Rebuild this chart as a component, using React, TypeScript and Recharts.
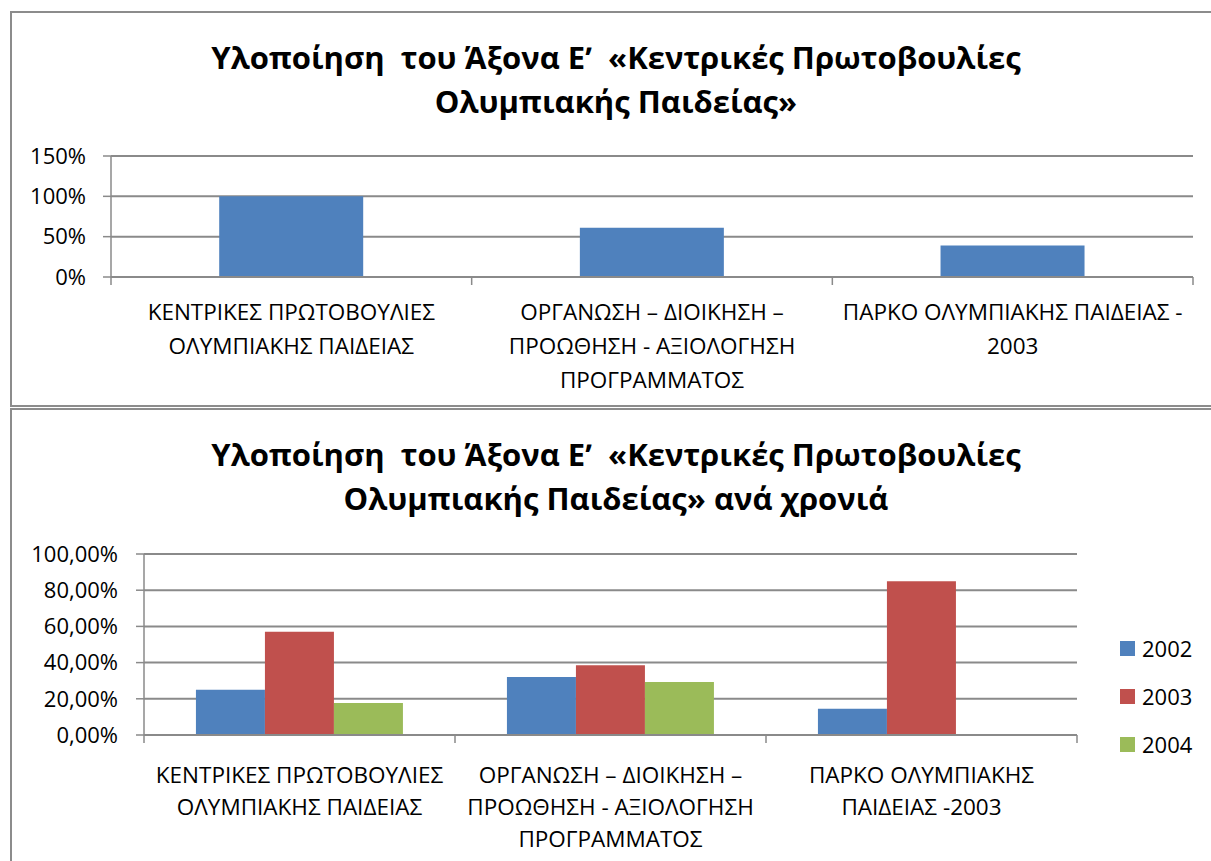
import { BarChart, Bar, XAxis, YAxis, CartesianGrid, Legend } from "recharts";

const totalCategories = ["ΚΕΝΤΡΙΚΕΣ", "ΟΡΓΑΝΩΣΗ", "ΠΑΡΚΟ"];
const totalLabels = [
  ["ΚΕΝΤΡΙΚΕΣ ΠΡΩΤΟΒΟΥΛΙΕΣ", "ΟΛΥΜΠΙΑΚΗΣ ΠΑΙΔΕΙΑΣ"],
  ["ΟΡΓΑΝΩΣΗ – ΔΙΟΙΚΗΣΗ –", "ΠΡΟΩΘΗΣΗ - ΑΞΙΟΛΟΓΗΣΗ", "ΠΡΟΓΡΑΜΜΑΤΟΣ"],
  ["ΠΑΡΚΟ ΟΛΥΜΠΙΑΚΗΣ ΠΑΙΔΕΙΑΣ -", "2003"],
];
const totalValues = [1.0, 0.61, 0.39];
const totalTicks = [0, 0.5, 1, 1.5];

const yearLabels = [
  ["ΚΕΝΤΡΙΚΕΣ ΠΡΩΤΟΒΟΥΛΙΕΣ", "ΟΛΥΜΠΙΑΚΗΣ ΠΑΙΔΕΙΑΣ"],
  ["ΟΡΓΑΝΩΣΗ – ΔΙΟΙΚΗΣΗ –", "ΠΡΟΩΘΗΣΗ - ΑΞΙΟΛΟΓΗΣΗ", "ΠΡΟΓΡΑΜΜΑΤΟΣ"],
  ["ΠΑΡΚΟ ΟΛΥΜΠΙΑΚΗΣ", "ΠΑΙΔΕΙΑΣ -2003"],
];
const years = ["2002", "2003", "2004"];
const values2002 = [0.25, 0.32, 0.145];
const values2003 = [0.57, 0.385, 0.85];
const values2004 = [0.177, 0.293, null];
const yearTicks = [0, 0.2, 0.4, 0.6, 0.8, 1];

const colors = ["#4F81BD", "#C0504D", "#9BBB59"];
const GRID = "#8a8a8a";
const FONT = "'Open Sans', 'Noto Sans', sans-serif";

const totalData = totalCategories.map((c, i) => ({ name: c, value: totalValues[i] }));
const yearData = totalCategories.map((c, i) => ({
  name: c,
  "2002": values2002[i],
  "2003": values2003[i],
  "2004": values2004[i],
}));

function CategoryTick(props: any) {
  const { x, y, index, lines, step, count, firstLine, lineHeight } = props;
  const rows: string[] = lines[index] || [];
  return (
    <g>
      <line x1={x - step / 2} x2={x - step / 2} y1={y} y2={y + 8} stroke={GRID} strokeWidth={1.5} />
      {index === count - 1 && (
        <line x1={x + step / 2} x2={x + step / 2} y1={y} y2={y + 8} stroke={GRID} strokeWidth={1.5} />
      )}
      <text textAnchor="middle" fill="#000" fontSize={22.5} fontFamily={FONT}>
        {rows.map((r, i) => (
          <tspan key={i} x={x} y={y + firstLine + i * lineHeight}>
            {r}
          </tspan>
        ))}
      </text>
    </g>
  );
}

function YearLegend() {
  return (
    <div style={{ fontFamily: FONT, fontSize: 22, color: "#000" }}>
      {years.map((yr, i) => (
        <div key={yr} style={{ height: 48, display: "flex", alignItems: "center" }}>
          <span style={{ width: 15, height: 15, background: colors[i], marginRight: 7, display: "inline-block" }} />
          <span>{yr}</span>
        </div>
      ))}
    </div>
  );
}

const titleStyle: any = {
  position: "absolute",
  left: 10,
  width: 1212,
  textAlign: "center",
  fontFamily: FONT,
  fontWeight: 700,
  fontSize: 31,
  lineHeight: "44px",
  whiteSpace: "pre",
  color: "#000",
};

export default function App() {
  const topStep = (1193 - 111) / 3;
  const botStep = (1077 - 144) / 3;
  return (
    <div style={{ position: "absolute", left: 0, top: 0, width: 1211, height: 861, overflow: "hidden", background: "#fff" }}>
      <div style={{ position: "absolute", left: 10, top: 11, width: 1230, height: 396, border: "2px solid #8c8c8c", boxSizing: "border-box" }} />
      <div style={{ position: "absolute", left: 10, top: 408, width: 1230, height: 480, border: "2px solid #8c8c8c", boxSizing: "border-box" }} />

      <div style={{ ...titleStyle, top: 35 }}>
        {"Υλοποίηση  του Άξονα Εʹ  «Κεντρικές Πρωτοβουλίες\nΟλυμπιακής Παιδείας»"}
      </div>
      <div style={{ ...titleStyle, top: 432 }}>
        {"Υλοποίηση  του Άξονα Εʹ  «Κεντρικές Πρωτοβουλίες\nΟλυμπιακής Παιδείας» ανά χρονιά"}
      </div>

      <div style={{ position: "absolute", left: 0, top: 0 }}>
        <BarChart width={1211} height={408} data={totalData} margin={{ top: 156, right: 18, bottom: 0, left: 0 }} barCategoryGap="30%">
          <CartesianGrid vertical={false} stroke={GRID} strokeWidth={2} />
          <XAxis
            dataKey="name"
            height={131}
            interval={0}
            tickSize={0}
            tickMargin={0}
            axisLine={{ stroke: GRID, strokeWidth: 2 }}
            tickLine={false}
            tick={(p: any) => (
              <CategoryTick {...p} lines={totalLabels} step={topStep} count={3} firstLine={43} lineHeight={34} />
            )}
          />
          <YAxis
            width={111}
            domain={[0, 1.5]}
            ticks={totalTicks}
            tickFormatter={(v: number) => `${Math.round(v * 100)}%`}
            tickSize={8}
            tickMargin={17}
            axisLine={{ stroke: GRID, strokeWidth: 1.5 }}
            tickLine={{ stroke: GRID, strokeWidth: 1.5 }}
            tick={{ fill: "#000", fontSize: 22, fontFamily: FONT }}
          />
          <Bar dataKey="value" fill={colors[0]} isAnimationActive={false} />
        </BarChart>
      </div>

      <div style={{ position: "absolute", left: 0, top: 409 }}>
        <BarChart width={1211} height={452} data={yearData} margin={{ top: 145, right: 134, bottom: 0, left: 0 }} barCategoryGap="16.7%" barGap={0}>
          <CartesianGrid vertical={false} stroke={GRID} strokeWidth={2} />
          <XAxis
            dataKey="name"
            height={126}
            interval={0}
            tickSize={0}
            tickMargin={0}
            axisLine={{ stroke: GRID, strokeWidth: 2 }}
            tickLine={false}
            tick={(p: any) => (
              <CategoryTick {...p} lines={yearLabels} step={botStep} count={3} firstLine={48} lineHeight={32} />
            )}
          />
          <YAxis
            width={144}
            domain={[0, 1]}
            ticks={yearTicks}
            tickFormatter={(v: number) => `${(v * 100).toFixed(2).replace(".", ",")}%`}
            tickSize={8}
            tickMargin={18}
            axisLine={{ stroke: GRID, strokeWidth: 1.5 }}
            tickLine={{ stroke: GRID, strokeWidth: 1.5 }}
            tick={{ fill: "#000", fontSize: 22, fontFamily: FONT }}
          />
          <Legend
            layout="vertical"
            align="center"
            verticalAlign="middle"
            wrapperStyle={{ left: 1120, top: 215, width: 90 }}
            content={() => <YearLegend />}
          />
          {years.map((yr, i) => (
            <Bar key={yr} dataKey={yr} fill={colors[i]} isAnimationActive={false} />
          ))}
        </BarChart>
      </div>
    </div>
  );
}
